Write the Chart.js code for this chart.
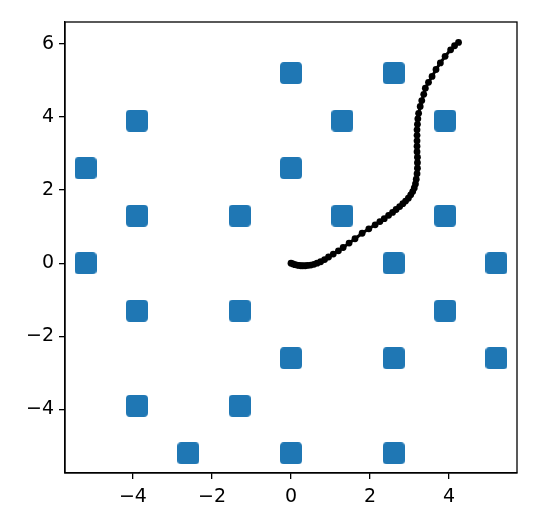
<!DOCTYPE html>
<html>
<head>
<meta charset="utf-8">
<script src="https://cdn.jsdelivr.net/npm/chart.js@4/dist/chart.umd.min.js"></script>
<style>
  html, body { margin: 0; padding: 0; background: #fff; }
</style>
</head>
<body>
<canvas id="chart" width="541" height="523"></canvas>
<script>
// lattice points (blue squares)
const gridX = [0, 2.6, -3.9, 1.3, 3.9, -5.2, 0, -3.9, -1.3, 1.3, 3.9, -5.2, 2.6, 5.2, -3.9, -1.3, 3.9, 0, 2.6, 5.2, -3.9, -1.3, -2.6, 0, 2.6];
const gridY = [5.2, 5.2, 3.9, 3.9, 3.9, 2.6, 2.6, 1.3, 1.3, 1.3, 1.3, 0, 0, 0, -1.3, -1.3, -1.3, -2.6, -2.6, -2.6, -3.9, -3.9, -5.2, -5.2, -5.2];

// trajectory (black line with dots)
const pathX = [0, 0.05, 0.1, 0.15, 0.2, 0.25, 0.3, 0.36, 0.42, 0.5, 0.58, 0.66, 0.75, 0.85, 0.95, 1.07, 1.2, 1.32, 1.47, 1.62, 1.8, 1.97, 2.13, 2.25, 2.36, 2.47, 2.57, 2.66, 2.75, 2.83, 2.9, 2.97, 3.03, 3.08, 3.12, 3.15, 3.17, 3.19, 3.2, 3.2, 3.2, 3.19, 3.19, 3.19, 3.19, 3.19, 3.2, 3.21, 3.23, 3.27, 3.31, 3.36, 3.4, 3.48, 3.57, 3.67, 3.78, 3.9, 4.04, 4.14, 4.24];
const pathY = [0, -0.02, -0.04, -0.05, -0.06, -0.07, -0.07, -0.07, -0.06, -0.05, -0.03, 0, 0.04, 0.1, 0.17, 0.25, 0.34, 0.43, 0.55, 0.67, 0.82, 0.94, 1.05, 1.14, 1.22, 1.31, 1.39, 1.47, 1.55, 1.63, 1.7, 1.78, 1.87, 1.96, 2.06, 2.17, 2.3, 2.45, 2.6, 2.75, 2.9, 3.05, 3.2, 3.35, 3.5, 3.65, 3.8, 3.95, 4.1, 4.29, 4.45, 4.62, 4.79, 4.95, 5.11, 5.3, 5.48, 5.66, 5.84, 5.95, 6.04];

const xTicks = [-4, -2, 0, 2, 4];
const yTicks = [-4, -2, 0, 2, 4, 6];

// rounded square marker
const marker = document.createElement("canvas");
marker.width = 22;
marker.height = 22;
const mctx = marker.getContext("2d");
const r = 4, w = 22, h = 22;
mctx.beginPath();
mctx.moveTo(r, 0);
mctx.arcTo(w, 0, w, h, r);
mctx.arcTo(w, h, 0, h, r);
mctx.arcTo(0, h, 0, 0, r);
mctx.arcTo(0, 0, w, 0, r);
mctx.closePath();
mctx.fillStyle = "#1f77b4";
mctx.fill();

const fmt = v => (v < 0 ? "\u2212" + Math.abs(v) : String(v));

// full box around the plot area
const boxPlugin = {
    id: "box",
    afterDraw(chart) {
        const a = chart.chartArea;
        const ctx = chart.ctx;
        ctx.save();
        ctx.strokeStyle = "#000";
        ctx.lineWidth = 1.3;
        ctx.strokeRect(a.left, a.top, a.right - a.left, a.bottom - a.top);
        ctx.restore();
    }
};

const axisCommon = {
    type: "linear",
    grid: { display: true, drawOnChartArea: false, drawTicks: true, tickLength: 6, color: "#000", lineWidth: 1.3 },
    border: { display: true, color: "#000", width: 1.3 },
    ticks: { color: "#000", font: { family: "DejaVu Sans", size: 19 }, padding: 5, callback: v => fmt(v) }
};

new Chart(document.getElementById("chart").getContext("2d"), {
    type: "scatter",
    data: {
        datasets: [
            {
                data: pathX.map((x, i) => ({ x: x, y: pathY[i] })),
                showLine: true,
                borderColor: "#000",
                borderWidth: 3,
                pointRadius: 3.4,
                pointBackgroundColor: "#000",
                pointBorderWidth: 0,
                order: 0
            },
            {
                data: gridX.map((x, i) => ({ x: x, y: gridY[i] })),
                pointStyle: marker,
                order: 1
            }
        ]
    },
    options: {
        responsive: false,
        animation: false,
        layout: { padding: { left: 0, top: 22, right: 24, bottom: 0 } },
        plugins: { legend: { display: false }, tooltip: { enabled: false } },
        scales: {
            x: Object.assign({}, axisCommon, {
                min: -5.72, max: 5.72,
                ticks: Object.assign({}, axisCommon.ticks, { padding: 7 }),
                afterBuildTicks: s => { s.ticks = xTicks.map(v => ({ value: v })); },
                afterFit: s => { s.height = 50; }
            }),
            y: Object.assign({}, axisCommon, {
                min: -5.74, max: 6.6,
                afterBuildTicks: s => { s.ticks = yTicks.map(v => ({ value: v })); },
                afterFit: s => { s.width = 65; }
            })
        }
    },
    plugins: [boxPlugin]
});
</script>
</body>
</html>
